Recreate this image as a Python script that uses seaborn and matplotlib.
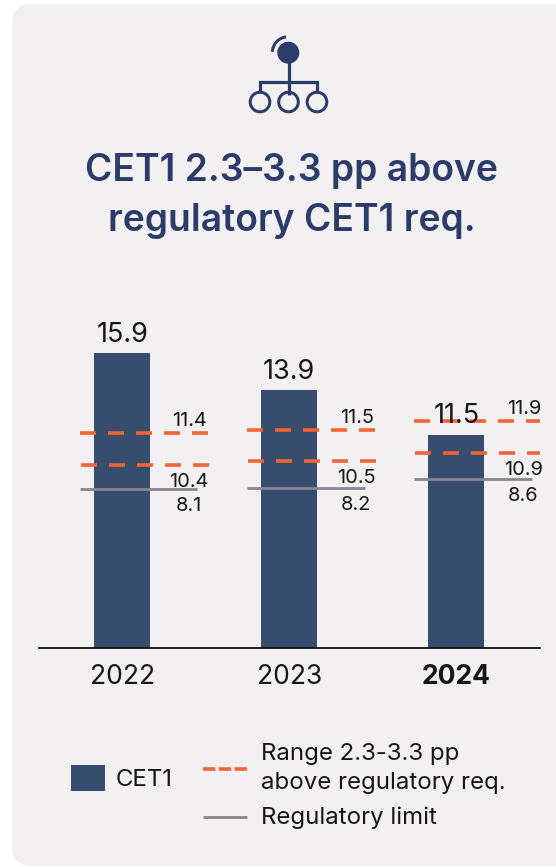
import matplotlib
matplotlib.use("Agg")
import matplotlib.pyplot as plt
import pandas as pd
import seaborn as sns
from matplotlib.patches import Arc, Circle, FancyBboxPatch, Rectangle

# values
years = ["2022", "2023", "2024"]
cet1 = [15.9, 13.9, 11.5]
# the drawn lines do not sit at their printed values in the source chart
range_top = [11.57, 11.75, 12.22]
range_bottom = [9.88, 10.07, 10.51]
reg_limit = [8.56, 8.65, 9.11]
range_top_labels = ["11.4", "11.5", "11.9"]
range_bottom_labels = ["10.4", "10.5", "10.9"]
reg_limit_labels = ["8.1", "8.2", "8.6"]

W, H = 556, 867
PANEL = "#F2F0F1"
NAVY = "#2C3C6A"
BAR = "#374D6E"
ORANGE = "#F26335"
GREY = "#8A8494"
INK = "#161616"

sns.set_theme(style="white")
plt.rcParams["font.family"] = ["Inter", "DejaVu Sans"]


def px(n):
    return n * 72 / 100


fig = plt.figure(figsize=(W / 100, H / 100), dpi=100, facecolor="white")

# pixel space layer for the card, icon, title and legend
bg = fig.add_axes([0, 0, 1, 1])
bg.set_xlim(0, W)
bg.set_ylim(H, 0)
bg.axis("off")

bg.add_patch(FancyBboxPatch((12, 4), 600, 862, boxstyle="round,pad=0,rounding_size=20",
                            fc=PANEL, ec="none"))

# icon
bg.add_patch(Circle((288.3, 52.7), 11, fc=NAVY, ec="none"))
bg.add_patch(Arc((288.3, 52.7), 32, 32, theta1=183, theta2=262, ec=NAVY, lw=px(3)))
bg.plot([288.5, 288.5], [60, 95], color=NAVY, lw=px(3.2), solid_capstyle="butt")
bg.plot([259.5, 259.5, 317, 317], [93, 81.7, 81.7, 93], color=NAVY, lw=px(3.2),
        solid_joinstyle="miter", solid_capstyle="butt")
for cx in [260, 288.5, 317]:
    bg.add_patch(Circle((cx, 102), 9.8, fc=PANEL, ec=NAVY, lw=px(3)))

bg.text(291.5, 171, "CET1 2.3–3.3 pp above", ha="center", va="center", color=NAVY,
        fontsize=px(37.3), fontweight="semibold")
bg.text(291.5, 221, "regulatory CET1 req.", ha="center", va="center", color=NAVY,
        fontsize=px(37.3), fontweight="semibold")

# legend
bg.add_patch(Rectangle((71, 765), 34, 26, fc=BAR, ec="none"))
bg.text(116, 780, "CET1", va="center", color=INK, fontsize=px(24))
bg.plot([203, 247], [769, 769], color=ORANGE, lw=px(3.6), solid_capstyle="butt",
        linestyle=(0, (12.4 / 3.6, 3.4 / 3.6)))
bg.text(261, 754, "Range 2.3-3.3 pp", va="center", color=INK, fontsize=px(24))
bg.text(261, 783, "above regulatory req.", va="center", color=INK, fontsize=px(24))
bg.plot([203, 247], [817, 817], color=GREY, lw=px(2.8), solid_capstyle="butt")
bg.text(261, 818, "Regulatory limit", va="center", color=INK, fontsize=px(24))

# chart
PX_PER_UNIT = 18.55
Y_MAX = 18.8
ax_left, ax_right, ax_base = 38.6, 540, 648
ax = fig.add_axes([ax_left / W, (H - ax_base) / H, (ax_right - ax_left) / W,
                   Y_MAX * PX_PER_UNIT / H])
ax.patch.set_alpha(0)

df = pd.DataFrame({"year": years, "cet1": cet1})
sns.barplot(data=df, x="year", y="cet1", color=BAR, saturation=1, width=0.335, ax=ax,
            linewidth=0)
ax.bar_label(ax.containers[0], fmt="%.1f", padding=px(5.5), fontsize=px(27), color=INK)

ax.set_xlim(-0.5, 2.5)
ax.set_ylim(0, Y_MAX)
ax.set_xlabel("")
ax.set_ylabel("")
ax.set_yticks([])
sns.despine(ax=ax, left=True)
ax.spines["bottom"].set_color("#111111")
ax.spines["bottom"].set_linewidth(px(1.8))
ax.tick_params(axis="x", length=0, pad=px(16), labelsize=px(26.5), labelcolor=INK)
ax.get_xticklabels()[2].set_fontweight("bold")

dash = (0, (16 / 3.6, 12 / 3.6))
for i in range(len(years)):
    for val, shift in ((range_top[i], 0.004), (range_bottom[i], 0.012)):
        ax.plot([i - 0.258 + shift, i + 0.513 + shift], [val, val], color=ORANGE,
                lw=px(3.6), linestyle=dash, dash_capstyle="butt")
    ax.plot([i - 0.252, i + 0.45], [reg_limit[i], reg_limit[i]], color=GREY, lw=px(2.8),
            solid_capstyle="butt")
    ax.annotate(range_top_labels[i], (i + 0.405, range_top[i]), xytext=(0, px(12)),
                textcoords="offset points", ha="center", va="center",
                fontsize=px(20), color=INK)
    ax.annotate(range_bottom_labels[i], (i + 0.4, range_bottom[i]), xytext=(0, px(-17)),
                textcoords="offset points", ha="center", va="center",
                fontsize=px(20), color=INK)
    ax.annotate(reg_limit_labels[i], (i + 0.4, reg_limit[i]), xytext=(0, px(-17)),
                textcoords="offset points", ha="center", va="center",
                fontsize=px(20), color=INK)

fig.savefig("out.png", dpi=100)
